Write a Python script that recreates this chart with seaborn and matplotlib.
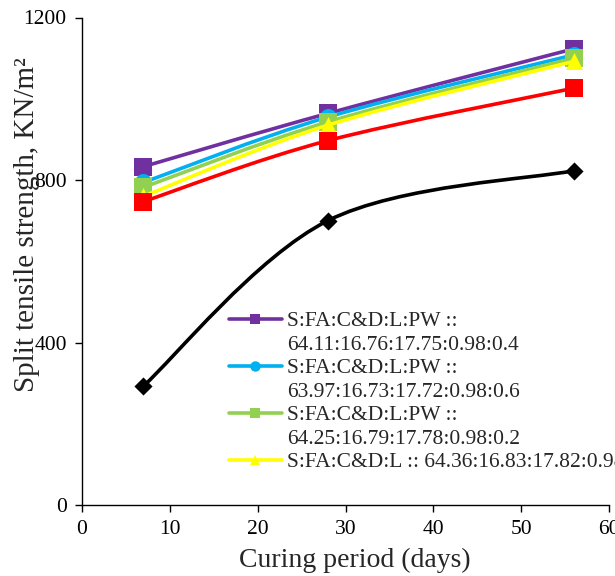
import numpy as np
import pandas as pd
import matplotlib
matplotlib.use("Agg")
import matplotlib.pyplot as plt
import seaborn as sns
from matplotlib.path import Path
from matplotlib.patches import PathPatch
from matplotlib.lines import Line2D

# Curing ages (days)
days = [7, 28, 56]

# Split tensile strength (KN/m^2) for each mix
pw_04 = [833, 964, 1123]
pw_06 = [794, 955, 1108]
pw_02 = [782, 943, 1100]
no_pw = [760, 935, 1092]
pw_08 = [747, 897, 1026]
control = [293, 700, 823]

# Legend text (two rows per mix where the ratio string wraps)
label_04 = ["S:FA:C&D:L:PW ::", "64.11:16.76:17.75:0.98:0.4"]
label_06 = ["S:FA:C&D:L:PW ::", "63.97:16.73:17.72:0.98:0.6"]
label_02 = ["S:FA:C&D:L:PW ::", "64.25:16.79:17.78:0.98:0.2"]
label_no = ["S:FA:C&D:L :: 64.36:16.83:17.82:0.98"]

x_ticks = [0, 10, 20, 30, 40, 50, 60]
y_ticks = [0, 400, 800, 1200]

sns.set_style("ticks")
plt.rcParams["font.family"] = ["Liberation Serif", "DejaVu Serif"]

series = [
    # values, colour, marker, marker size (pt^2), legend rows
    (pw_04, "#7030A0", "s", 150, label_04),
    (pw_06, "#00B0F0", "o", 150, label_06),
    (pw_02, "#92D050", "s", 150, label_02),
    (no_pw, "#FFFF00", "^", 150, label_no),
    (pw_08, "#FF0000", "s", 150, None),
    (control, "#000000", "D", 85, None),
]


def smooth_path(xs, ys):
    """Cubic Bezier path through the points (Catmull-Rom style tangents)."""
    pts = np.column_stack([xs, ys]).astype(float)
    n = len(pts)
    verts = [pts[0]]
    codes = [Path.MOVETO]
    for i in range(n - 1):
        p_prev = pts[i - 1] if i > 0 else pts[i]
        p_next = pts[i + 2] if i + 2 < n else pts[i + 1]
        c1 = pts[i] + (pts[i + 1] - p_prev) / 6.0
        c2 = pts[i + 1] - (p_next - pts[i]) / 6.0
        verts += [c1, c2, pts[i + 1]]
        codes += [Path.CURVE4] * 3
    return Path(verts, codes)


fig = plt.figure(figsize=(6.15, 5.76), dpi=100)
ax = fig.add_axes([82 / 615, 71 / 576, 527 / 615, 487.5 / 576])

handles, labels = [], []
for k, (vals, col, mk, s, rows) in enumerate(series):
    df = pd.DataFrame({"days": days, "strength": vals})
    z = 2 + k
    ax.add_patch(PathPatch(smooth_path(df["days"], df["strength"]), fill=False,
                           edgecolor=col, lw=2.6, zorder=z, capstyle="butt"))
    sns.scatterplot(data=df, x="days", y="strength", color=col, marker=mk, s=s,
                    linewidth=0, ax=ax, zorder=z + 0.5, legend=False)
    if rows:
        handles.append(Line2D([0], [0], color=col, lw=2.6, marker=mk,
                              markersize=7.5, markeredgewidth=0))
        labels.append(rows[0])
        for extra in rows[1:]:
            handles.append(Line2D([0], [0], color="none"))
            labels.append(extra)

ax.set_xlim(0, 60)
ax.set_ylim(0, 1200)
ax.set_xticks(x_ticks)
ax.set_yticks(y_ticks)
ax.tick_params(axis="both", labelsize=15.5, direction="out", length=5,
               width=1, colors="black", pad=6)
for side in ("top", "right"):
    ax.spines[side].set_visible(False)
for side in ("left", "bottom"):
    ax.spines[side].set_linewidth(1)
    ax.spines[side].set_color("black")

ax.set_xlabel("Curing period (days)", fontsize=20, va="center")
ax.xaxis.set_label_coords(0.518, -0.113)
ax.set_ylabel("Split tensile strength, KN/m²", fontsize=21, va="center")
ax.yaxis.set_label_coords(-0.104, 0.576)

leg = fig.legend(handles, labels, loc="upper left",
                 bbox_to_anchor=(229 / 615, 1 - 311 / 576),
                 frameon=False, fontsize=15.5, handlelength=2.45,
                 handletextpad=0.25, labelspacing=0.16, borderpad=0,
                 borderaxespad=0)

fig.savefig("out.png", dpi=100)
